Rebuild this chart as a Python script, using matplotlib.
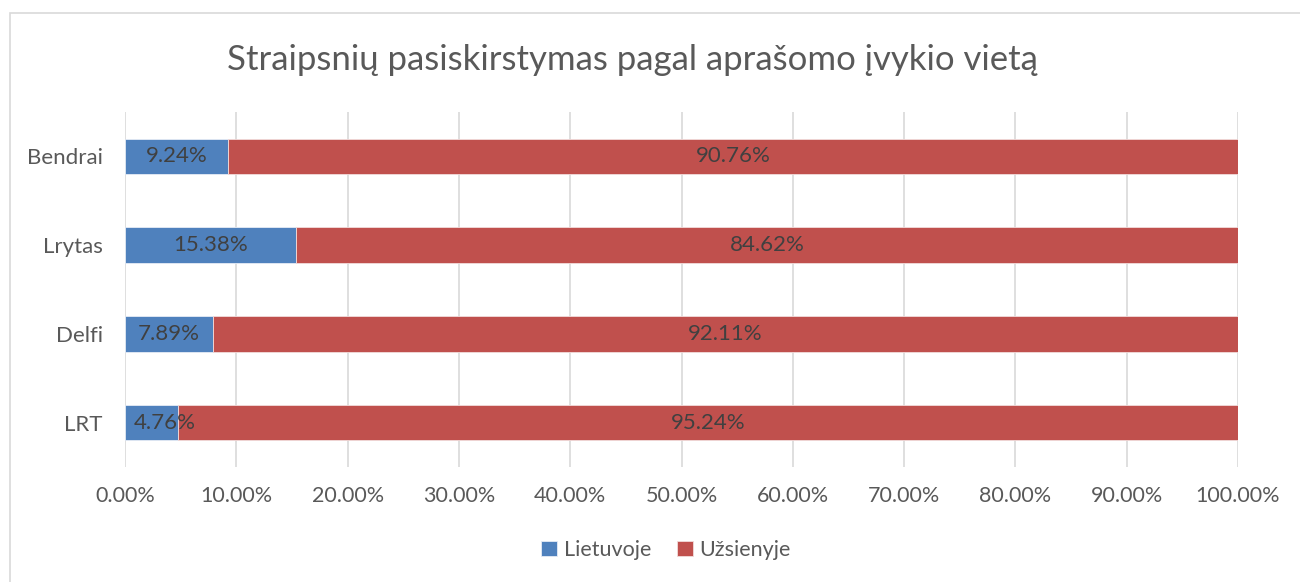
import matplotlib
matplotlib.use("Agg")
import matplotlib.pyplot as plt
from matplotlib.patches import Rectangle
from matplotlib.ticker import FuncFormatter, MultipleLocator

# data
categories = ["LRT", "Delfi", "Lrytas", "Bendrai"]
lietuvoje = [4.76, 7.89, 15.38, 9.24]
uzsienyje = [95.24, 92.11, 84.62, 90.76]
series_names = ["Lietuvoje", "Užsienyje"]
title = "Straipsnių pasiskirstymas pagal aprašomo įvykio vietą"

plt.rcParams['font.family'] = ['Lato', 'DejaVu Sans']

W, H = 1300, 582
fig = plt.figure(figsize=(W / 100, H / 100), dpi=100)
ax = fig.add_axes([125 / W, (H - 467) / H, (1238 - 125) / W, (467 - 112) / H])

# chart frame (cut off on the right and bottom)
fig.patches.append(Rectangle((10 / W, -0.1), 1.2, (H - 13) / H + 0.1,
                             transform=fig.transFigure, fill=False,
                             edgecolor='#d9d9d9', linewidth=1.2))

y = list(range(len(categories)))
blue = '#4f81bd'
red = '#c0504d'
b1 = ax.barh(y, lietuvoje, height=0.4, color=blue, edgecolor='#e6ecf5', linewidth=0.6,
             label=series_names[0], zorder=3)
b2 = ax.barh(y, uzsienyje, left=lietuvoje, height=0.4, color=red, edgecolor='#f2dcdb',
             linewidth=0.6, label=series_names[1], zorder=3)

ax.set_xlim(0, 100)
ax.set_ylim(-0.5, len(categories) - 0.5)

labels = []
for bars, vals, lefts in [(b1, lietuvoje, [0] * 4), (b2, uzsienyje, lietuvoje)]:
    for i, (v, l) in enumerate(zip(vals, lefts)):
        t = ax.text(l + v / 2, y[i], f"{v:.2f}%", ha='center', va='center',
                    fontsize=16, color='#404040', zorder=4)
        labels.append(t)

# keep labels inside the plot area like Excel does
fig.canvas.draw()
r = fig.canvas.get_renderer()
ax_left = ax.transData.transform((0, 0))[0]
for t in labels:
    bb = t.get_window_extent(r)
    if bb.x0 < ax_left + 9:
        shift = ax_left + 9 - bb.x0
        px = ax.transData.transform(t.get_position())
        t.set_position(ax.transData.inverted().transform((px[0] + shift, px[1])))

ax.xaxis.set_major_locator(MultipleLocator(10))
ax.xaxis.set_major_formatter(FuncFormatter(lambda v, p: f"{v:.2f}%"))
ax.set_yticks(y)
ax.set_yticklabels(categories)
ax.tick_params(axis='x', length=0, labelsize=15.5, labelcolor='#595959', pad=14)
ax.tick_params(axis='y', length=0, labelsize=16, labelcolor='#595959', pad=16)
ax.grid(axis='x', color='#d9d9d9', linewidth=1.2, zorder=0)
for s in ax.spines.values():
    s.set_visible(False)

fig.text(632 / W, (H - 60) / H, title, ha='center', va='center',
         fontsize=25, color='#595959')

leg = fig.legend(handles=[b1, b2], labels=series_names, loc='center',
                 bbox_to_anchor=(666 / W, (H - 550) / H), ncol=2, frameon=False,
                 fontsize=15.5, handlelength=0.75, handleheight=0.75, handletextpad=0.3,
                 columnspacing=1.2)
for t in leg.get_texts():
    t.set_color('#595959')

fig.savefig("out.png", dpi=100)
